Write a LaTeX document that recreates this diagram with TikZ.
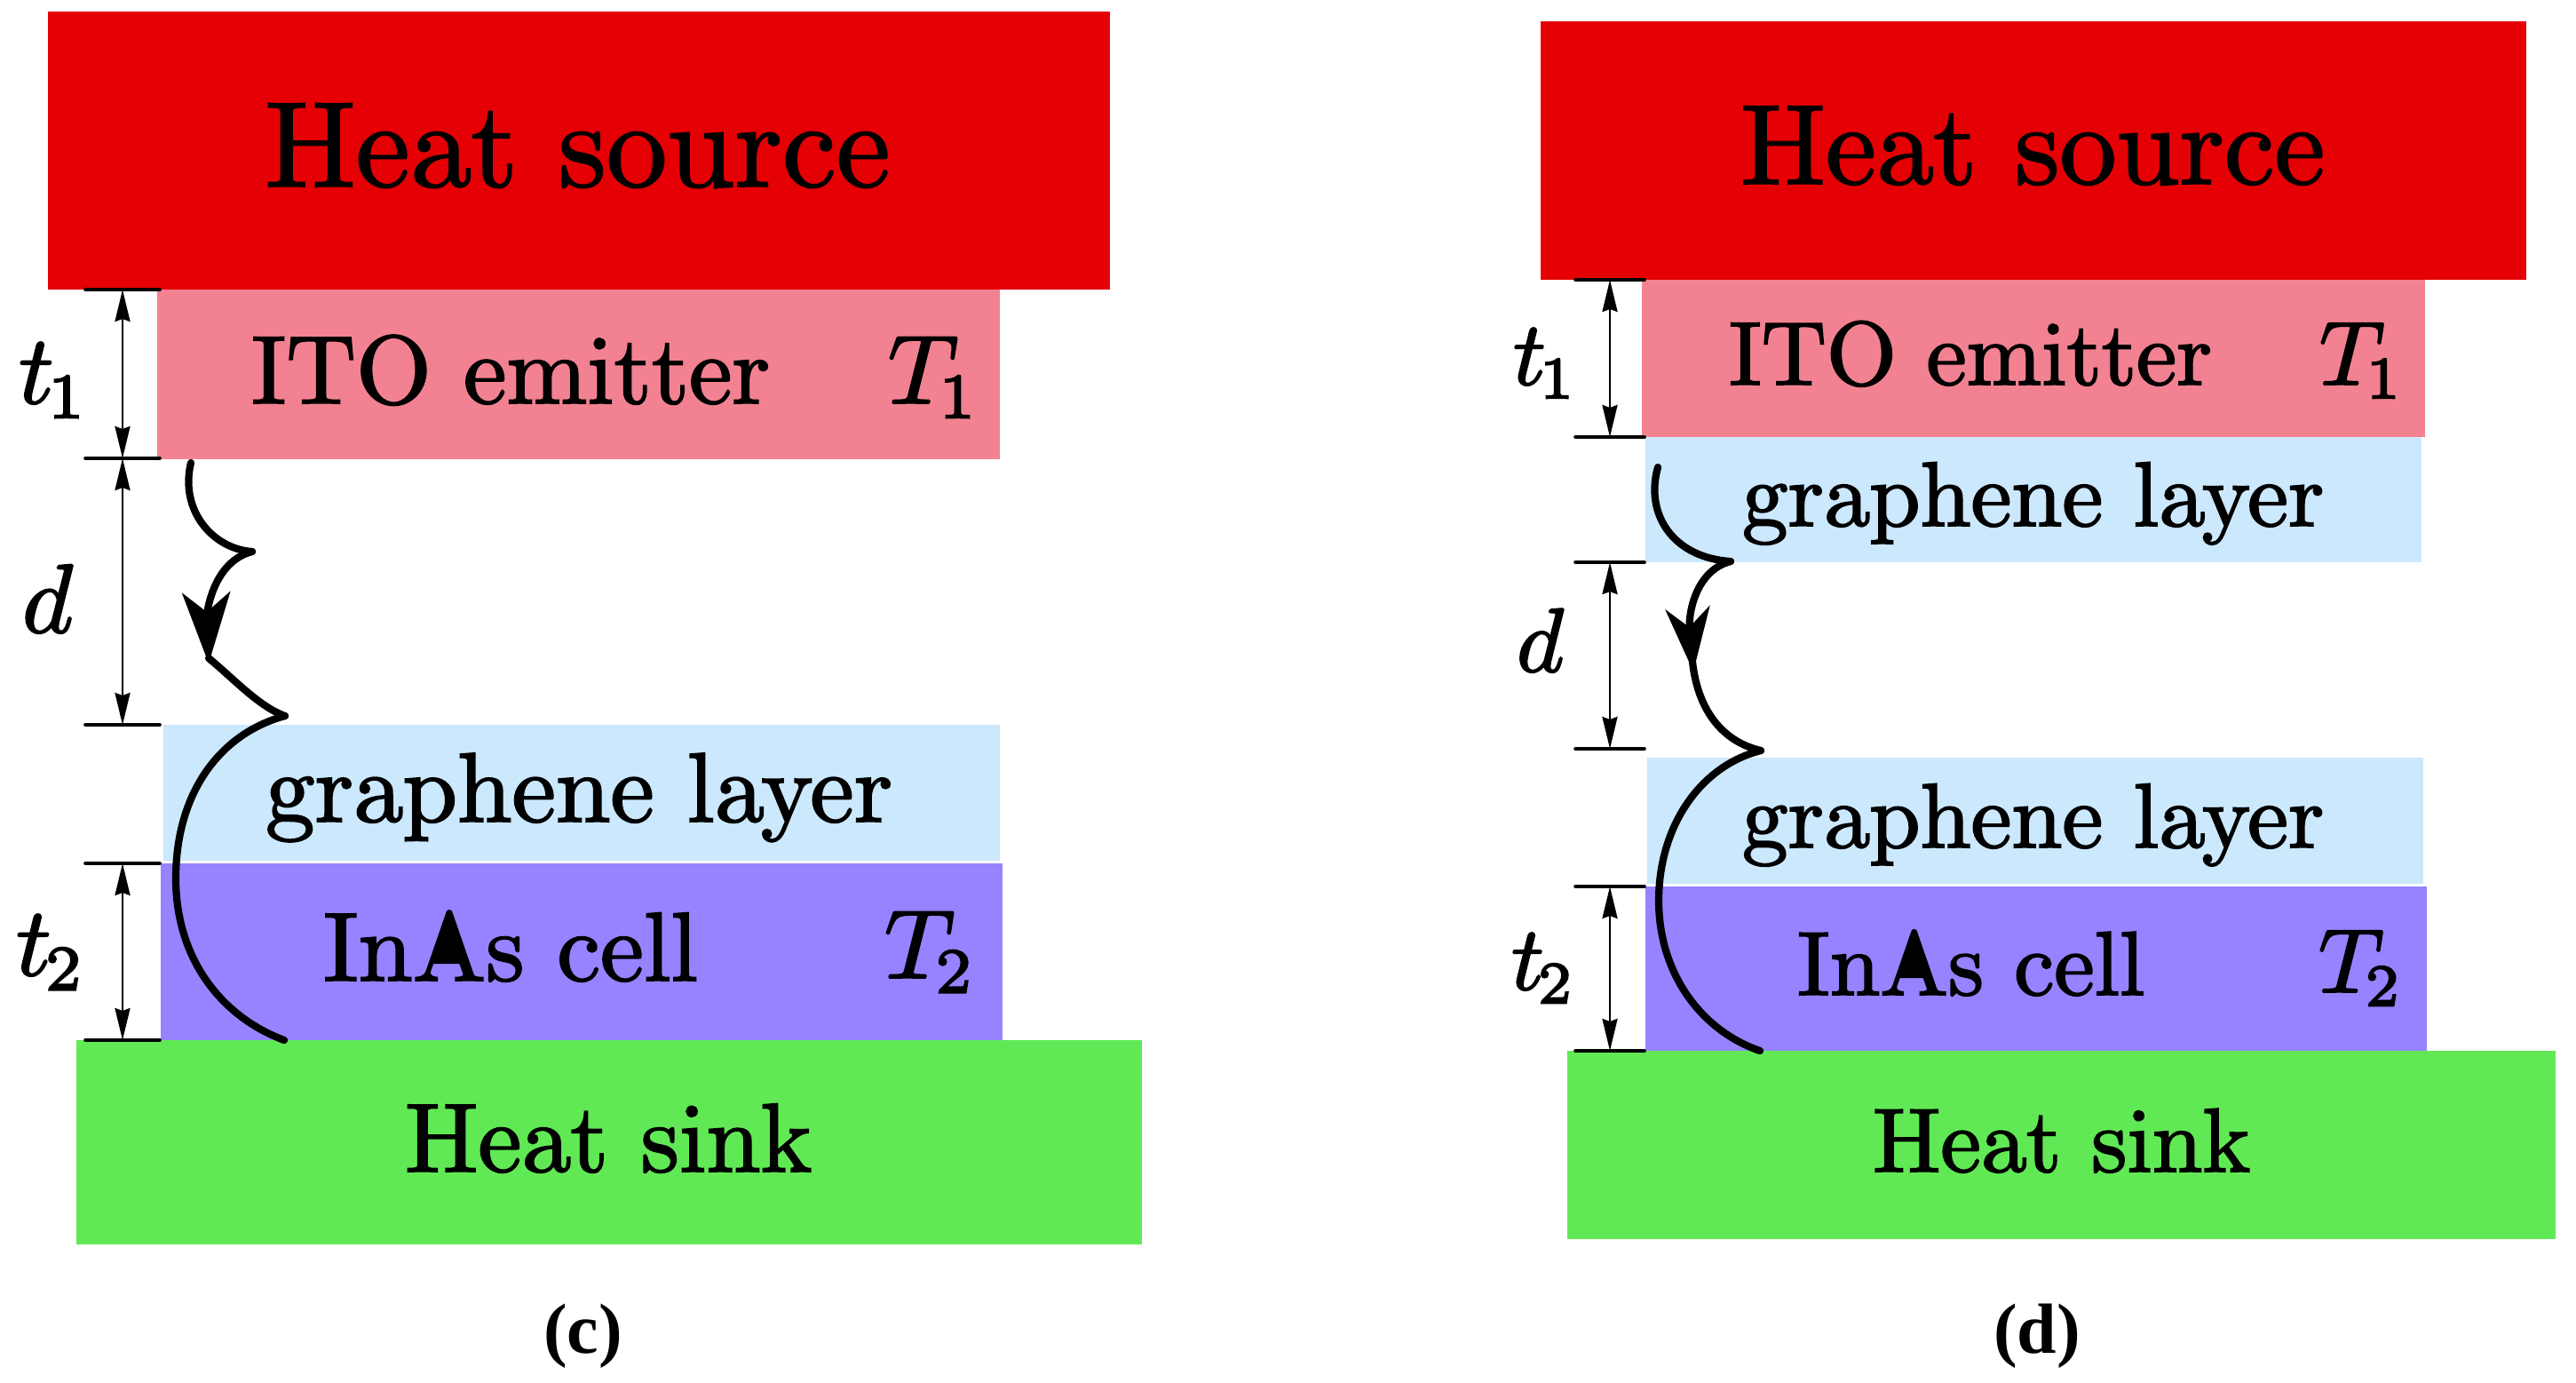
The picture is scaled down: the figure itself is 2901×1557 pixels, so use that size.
\documentclass[tikz,border=0pt]{standalone}
\usepackage[no-math]{fontspec}
\usetikzlibrary{arrows.meta}
\newfontfamily\capfont{Liberation Serif}
\DeclareFontFamily{OT1}{mycm}{}
\DeclareFontShape{OT1}{mycm}{m}{n}{<-80>cmr7 <80->cmr10}{}
\DeclareFontFamily{OML}{mycmm}{\skewchar\font'177}
\DeclareFontShape{OML}{mycmm}{m}{it}{<->cmmi10}{}
\DeclareFontFamily{OMS}{mycms}{\skewchar\font'60}
\DeclareFontShape{OMS}{mycms}{m}{n}{<->cmsy10}{}
\DeclareSymbolFont{operators}{OT1}{mycm}{m}{n}
\DeclareSymbolFont{letters}{OML}{mycmm}{m}{it}
\DeclareSymbolFont{symbols}{OMS}{mycms}{m}{n}
\DeclareMathSizes{110}{110}{72}{55}
\DeclareMathSizes{102}{102}{67}{51}
\newcommand\ff[1]{\fontsize{#1}{#1}\usefont{OT1}{mycm}{m}{n}}
\newcommand\heavy[1]{\special{pdf:code 2 Tr 2 w}#1\special{pdf:code 0 Tr 1 w}}
\newcommand\subk{\kern-7pt}
\definecolor{cred}{HTML}{E40004}
\definecolor{cpink}{HTML}{F28291}
\definecolor{cblue}{HTML}{CBE8FD}
\definecolor{cviolet}{HTML}{9683FF}
\definecolor{cgreen}{HTML}{61E955}
\tikzset{
  x=1pt,y=-1pt,
  lab/.style={anchor=base west,inner sep=0pt,outer sep=0pt,text=black},
  capt/.style={lab,font=\capfont\bfseries\fontsize{80}{80}\selectfont},
  tick/.style={line width=3.6pt,line cap=round,black},
  dim/.style={line width=2.7pt,black,{Stealth[length=36pt,width=17pt,inset=3pt]}-{Stealth[length=36pt,width=17pt,inset=3pt]}},
  wave/.style={line width=8.2pt,line cap=round,black},
}
\begin{document}
\begin{tikzpicture}
\useasboundingbox (0,0) rectangle (2901,1557);
% ---------- panel (c)
\fill[cred] (54,13) rectangle (1250,326);
\fill[cpink] (177,326) rectangle (1126,517);
\fill[cblue] (184,816) rectangle (1126,969);
\fill[cviolet] (181,972) rectangle (1129,1172);
\fill[cgreen] (86,1171) rectangle (1286,1401);
\node[lab,font=\ff{137}] (c-src) at (298,210) {\heavy{Heat source}};
\node[lab,font=\ff{109}] (c-ito) at (283,454) {\heavy{ITO emitter}};
\node[lab,font=\ff{110}] (c-t1cap) at (1000,454) {\heavy{$T_{\subk 1}$}};
\node[lab,font=\ff{111}] (c-gr) at (299,925) {\heavy{graphene layer}};
\node[lab,font=\ff{110}] (c-inas) at (364,1104) {\heavy{InAs cell}};
\fill[black] (507,1025) -- (486,1085) -- (526,1085) -- cycle;
\node[lab,font=\ff{110}] (c-t2cap) at (996,1101) {\heavy{$T_{\subk 2}$}};
\node[lab,font=\ff{110}] (c-sink) at (456,1319) {\heavy{Heat sink}};
\node[capt] (c-cap) at (612,1523) {(c)};
\node[lab,font=\ff{110}] (c-t1) at (21,454) {\heavy{$t_{\subk 1}$}};
\node[lab,font=\ff{110}] (c-d) at (25,712) {\heavy{$d$}};
\node[lab,font=\ff{110}] (c-t2) at (18,1098) {\heavy{$t_{\subk 2}$}};
\coordinate (ca1) at (96,326);  \coordinate (cb1) at (180,326);
\coordinate (ca2) at (96,516);  \coordinate (cb2) at (180,516);
\coordinate (ca3) at (96,816);  \coordinate (cb3) at (180,816);
\coordinate (ca4) at (96,972);  \coordinate (cb4) at (180,972);
\coordinate (ca5) at (96,1171); \coordinate (cb5) at (180,1171);
\coordinate (cd1) at (138,326); \coordinate (cd2) at (138,516);
\coordinate (cd3) at (138,816); \coordinate (cd4) at (138,972);
\coordinate (cd5) at (138,1171);
\foreach \i in {1,...,5} \draw[tick] (ca\i) -- (cb\i);
\draw[dim] (cd1) -- (cd2);
\draw[dim] (cd2) -- (cd3);
\draw[dim] (cd4) -- (cd5);
\coordinate (cw0) at (215,521);
\coordinate (cw1) at (284,621);
\coordinate (cw2) at (235,747);
\coordinate (cw3) at (321,806);
\coordinate (cw4) at (198,989);
\coordinate (cw5) at (320,1171);
\draw[wave] (cw0) .. controls (202,575) and (240,618) .. (cw1);
\draw[wave,-{Stealth[length=80pt,width=54pt,inset=22pt]}] (cw1) .. controls (240,632) and (233,690) .. (cw2);
\draw[wave] (235,741) .. controls (262,763) and (292,796) .. (cw3);
\draw[wave] (cw3) .. controls (250,825) and (198,890) .. (cw4) .. controls (198,1080) and (250,1145) .. (cw5);
% ---------- panel (d)
\fill[cred] (1735,24) rectangle (2845,315);
\fill[cpink] (1849,315) rectangle (2731,492);
\fill[cblue] (1853,492) rectangle (2727,633);
\fill[cblue] (1855,853) rectangle (2729,995);
\fill[cviolet] (1853,998) rectangle (2733,1183);
\fill[cgreen] (1765,1183) rectangle (2878,1395);
\node[lab,font=\ff{128}] (d-src) at (1960,207) {\heavy{Heat source}};
\node[lab,font=\ff{101.5}] (d-ito) at (1947,433) {\heavy{ITO emitter}};
\node[lab,font=\ff{102}] (d-t1cap) at (2612,433) {\heavy{$T_{\subk 1}$}};
\node[lab,font=\ff{103}] (d-gr1) at (1962,592) {\heavy{graphene layer}};
\node[lab,font=\ff{103}] (d-gr2) at (1962,954) {\heavy{graphene layer}};
\node[lab,font=\ff{102}] (d-inas) at (2024,1120) {\heavy{InAs cell}};
\fill[black] (2155,1047) -- (2135,1101) -- (2175,1101) -- cycle;
\node[lab,font=\ff{102}] (d-t2cap) at (2611,1117) {\heavy{$T_{\subk 2}$}};
\node[lab,font=\ff{102}] (d-sink) at (2109,1319) {\heavy{Heat sink}};
\node[capt] (d-cap) at (2245,1523) {(d)};
\node[lab,font=\ff{102}] (d-t1) at (1704,433) {\heavy{$t_{\subk 1}$}};
\node[lab,font=\ff{102}] (d-d) at (1708,756) {\heavy{$d$}};
\node[lab,font=\ff{102}] (d-t2) at (1702,1114) {\heavy{$t_{\subk 2}$}};
\coordinate (da1) at (1774,315);  \coordinate (db1) at (1852,315);
\coordinate (da2) at (1774,492);  \coordinate (db2) at (1852,492);
\coordinate (da3) at (1774,633);  \coordinate (db3) at (1852,633);
\coordinate (da4) at (1774,843);  \coordinate (db4) at (1852,843);
\coordinate (da5) at (1774,998);  \coordinate (db5) at (1852,998);
\coordinate (da6) at (1774,1183); \coordinate (db6) at (1852,1183);
\coordinate (dd1) at (1813,315); \coordinate (dd2) at (1813,492);
\coordinate (dd3) at (1813,633); \coordinate (dd4) at (1813,843);
\coordinate (dd5) at (1813,998); \coordinate (dd6) at (1813,1183);
\foreach \i in {1,...,6} \draw[tick] (da\i) -- (db\i);
\draw[dim] (dd1) -- (dd2);
\draw[dim] (dd3) -- (dd4);
\draw[dim] (dd5) -- (dd6);
\coordinate (dw0) at (1867,526);
\coordinate (dw1) at (1949,632);
\coordinate (dw2) at (1907,756);
\coordinate (dw3) at (1983,845);
\coordinate (dw4) at (1868,1014);
\coordinate (dw5) at (1982,1183);
\draw[wave] (dw0) .. controls (1852,580) and (1885,628) .. (dw1);
\draw[wave,-{Stealth[length=72pt,width=50pt,inset=22pt]}] (dw1) .. controls (1910,642) and (1901,690) .. (dw2);
\draw[wave] (1906,745) .. controls (1912,800) and (1940,835) .. (dw3);
\draw[wave] (dw3) .. controls (1915,862) and (1868,930) .. (dw4) .. controls (1868,1095) and (1915,1160) .. (dw5);
\end{tikzpicture}
\end{document}
